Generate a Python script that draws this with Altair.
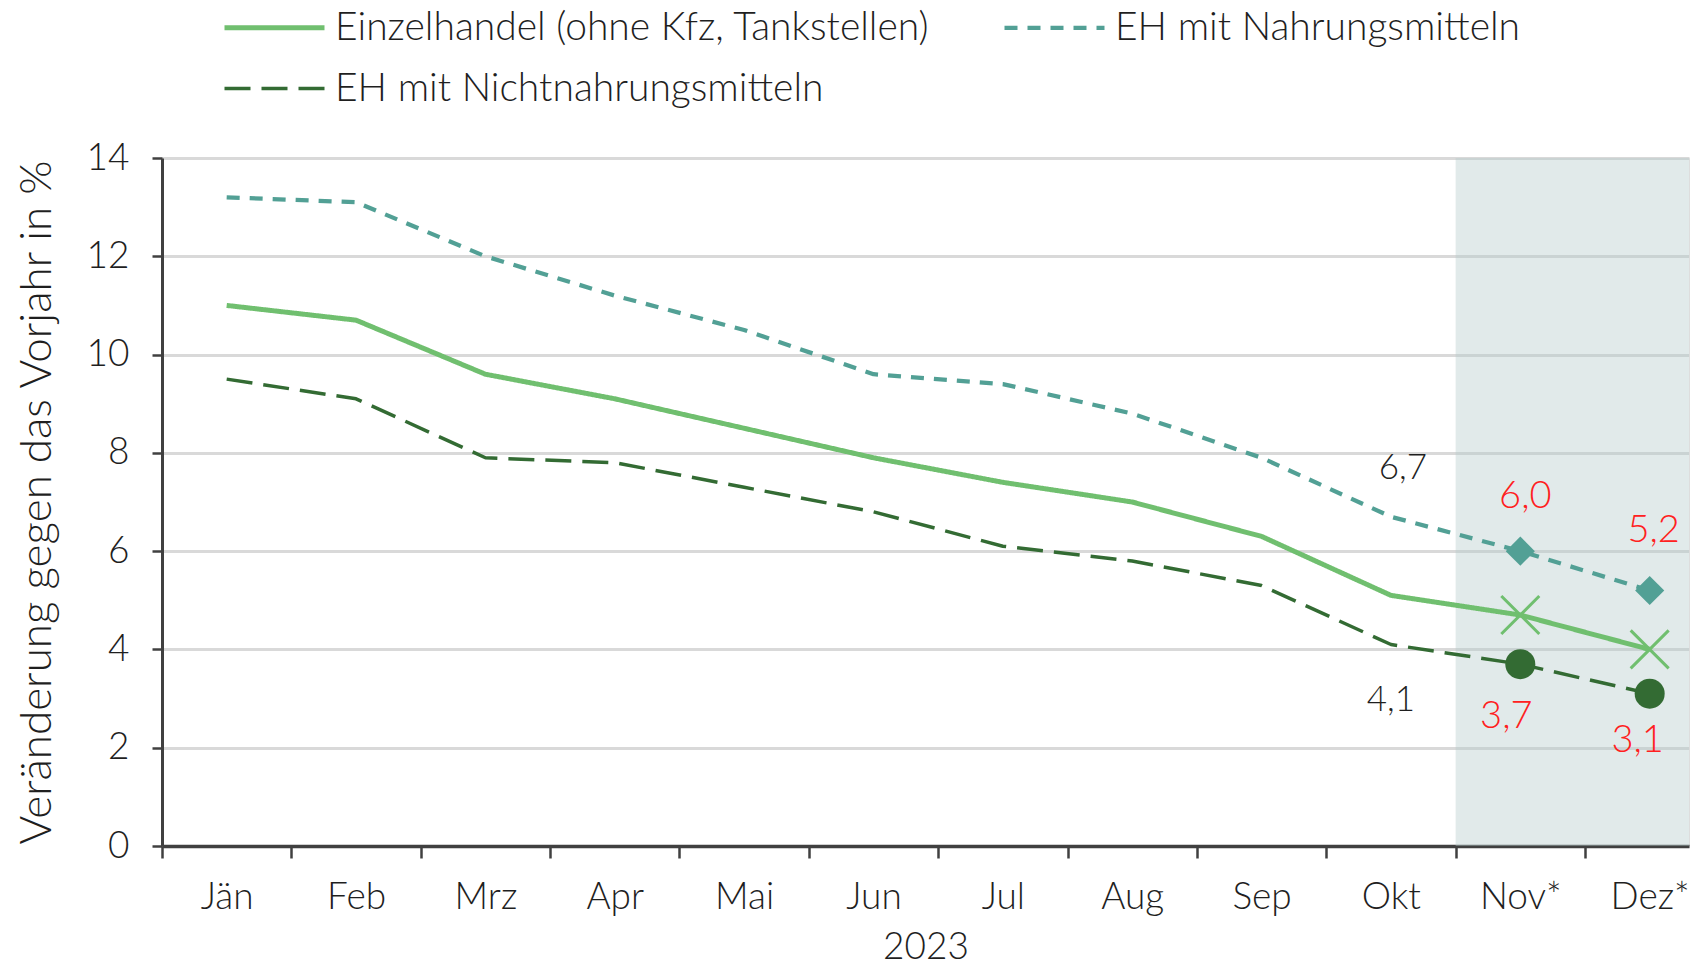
import altair as alt
import pandas as pd

months = ["Jän", "Feb", "Mrz", "Apr", "Mai", "Jun", "Jul", "Aug", "Sep", "Okt", "Nov*", "Dez*"]
series_names = [
    "Einzelhandel (ohne Kfz, Tankstellen)",
    "EH mit Nahrungsmitteln",
    "EH mit Nichtnahrungsmitteln",
]
einzelhandel = [11.0, 10.7, 9.6, 9.1, 8.5, 7.9, 7.4, 7.0, 6.3, 5.1, 4.7, 4.0]
nahrung = [13.2, 13.1, 12.0, 11.2, 10.5, 9.6, 9.4, 8.8, 7.9, 6.7, 6.0, 5.2]
nichtnahrung = [9.5, 9.1, 7.9, 7.8, 7.3, 6.8, 6.1, 5.8, 5.3, 4.1, 3.7, 3.1]
series_colors = ["#70bf6f", "#52a095", "#336b33"]
forecast_months = ["Nov*", "Dez*"]
y_domain = [0, 14]
y_ticks = [0, 2, 4, 6, 8, 10, 12, 14]
x_domain = [-0.5, 11.304]   # the last month is cut off at the right edge, as in the original

label_months = ["Okt", "Okt", "Nov*", "Dez*", "Nov*", "Dez*"]
label_values = [6.7, 4.1, 6.0, 5.2, 3.7, 3.1]
label_texts = ["6,7", "4,1", "6,0", "5,2", "3,7", "3,1"]

FONT = "Lato"
FW = 300
TXT = "#1f1f1f"
AX = "#404040"

idx = {m: i for i, m in enumerate(months)}
n = len(months)

lines_df = pd.DataFrame({
    "month": months * 3,
    "idx": list(range(n)) * 3,
    "series": [series_names[0]] * n + [series_names[1]] * n + [series_names[2]] * n,
    "value": einzelhandel + nahrung + nichtnahrung,
})
shade_df = pd.DataFrame({
    "x0": [idx[forecast_months[0]] - 0.5], "x1": [idx[forecast_months[-1]] + 0.5],
    "lo": [y_domain[0]], "hi": [y_domain[1]],
})

boundaries = [i - 0.5 for i in range(n)]
centers = list(range(n))
tick_values = sorted(boundaries + centers)
months_js = "[" + ",".join("'" + m + "'" for m in months) + "]"

x_scale = alt.Scale(domain=x_domain, nice=False, zero=False)
x_axis = alt.Axis(
    title="2023", values=tick_values,
    labelExpr=f"datum.value % 1 === 0 ? {months_js}[datum.value] : ''",
    labelAngle=0, labelOverlap=False, labelFlush=False, grid=False,
    labelFont=FONT, labelFontWeight=FW, labelFontSize=37, labelColor=TXT, labelPadding=21,
    titleFont=FONT, titleFontWeight=FW, titleFontSize=37, titleColor=TXT, titlePadding=14,
    domainColor=AX, domainWidth=3.5, tickColor=AX, tickWidth=2.5, tickSize=12,
    tickOpacity={"condition": {"test": "datum.value % 1 === 0", "value": 0}, "value": 1},
)
y_scale = alt.Scale(domain=y_domain, nice=False, zero=True)
y_axis = alt.Axis(
    title="Veränderung gegen das Vorjahr in %", values=y_ticks,
    labelFont=FONT, labelFontWeight=FW, labelFontSize=37, labelColor=TXT, labelPadding=23,
    titleFont=FONT, titleFontWeight=FW, titleFontSize=44, titleColor=TXT, titlePadding=27,
    domainColor=AX, domainWidth=3, tickColor=AX, tickWidth=2.5, tickSize=10,
    grid=True, gridColor="#d9d9d9", gridWidth=3,
)

X = lambda: alt.X("idx:Q", scale=x_scale, axis=x_axis)
Y = lambda f: alt.Y(f, scale=y_scale, axis=y_axis)

shade = alt.Chart(shade_df).mark_rect(color="#b3caca", opacity=0.4, clip=True).encode(
    x=alt.X("x0:Q", scale=x_scale, axis=x_axis), x2="x1:Q",
    y=Y("lo:Q"), y2="hi:Q",
)

lines = alt.Chart(lines_df).mark_line(strokeCap="butt", strokeJoin="round").encode(
    x=X(),
    y=Y("value:Q"),
    color=alt.Color(
        "series:N", sort=series_names,
        scale=alt.Scale(domain=series_names, range=series_colors),
        legend=alt.Legend(
            title=None, orient="none", legendX=93, legendY=-150, columns=2,
            direction="horizontal", symbolType="M-5,0L5,0", symbolSize=400,
            labelFont=FONT, labelFontWeight=FW, labelFontSize=39, labelColor=TXT, labelOffset=41,
            columnPadding=66, rowPadding=21, labelLimit=900,
        ),
    ),
    strokeDash=alt.StrokeDash(
        "series:N", sort=series_names,
        scale=alt.Scale(domain=series_names, range=[[1, 0], [13, 10], [26, 11]]),
        legend=alt.Legend(title=None),
    ),
    strokeWidth=alt.StrokeWidth(
        "series:N", sort=series_names,
        scale=alt.Scale(domain=series_names, range=[5, 3.5, 3.5]),
        legend=alt.Legend(title=None),
    ),
    detail="series:N",
)

def pts(series, shape, size, filled, color):
    return alt.Chart(lines_df).transform_filter(
        alt.FieldOneOfPredicate(field="month", oneOf=forecast_months)
    ).transform_filter(
        alt.FieldEqualPredicate(field="series", equal=series)
    ).mark_point(shape=shape, size=size, filled=filled, color=color, strokeWidth=3, opacity=1).encode(
        x=X(), y=Y("value:Q"),
    )

points = [
    pts(series_names[1], "diamond", 850, True, series_colors[1]),
    pts(series_names[0], "M-1,-1L1,1M-1,1L1,-1", 1444, False, series_colors[0]),
    pts(series_names[2], "circle", 900, True, series_colors[2]),
]

labels_df = pd.DataFrame({
    "idx": [idx[m] for m in label_months], "value": label_values, "text": label_texts,
})

def lab(i, color, dx, dy, size):
    return alt.Chart(labels_df.iloc[[i]]).mark_text(
        font=FONT, fontWeight=FW, fontSize=size, color=color, dx=dx, dy=dy,
        baseline="middle", align="center",
    ).encode(x=X(), y=Y("value:Q"), text="text:N")

RED = "#ff2020"
texts = [
    lab(0, TXT, 12, -49, 35),
    lab(1, TXT, 0, 55, 35),
    lab(2, RED, 5, -54, 38),
    lab(3, RED, 4, -59, 38),
    lab(4, RED, -14, 53, 38),
    lab(5, RED, -12, 47, 38),
]

chart = alt.layer(shade, lines, *points, *texts).properties(
    width=1527, height=688, padding={"left": 7, "top": 0, "right": 0, "bottom": 0},
).configure_view(stroke=None).configure(background="white")

chart.save("out.html", embed_options={"renderer": "svg", "actions": False})
